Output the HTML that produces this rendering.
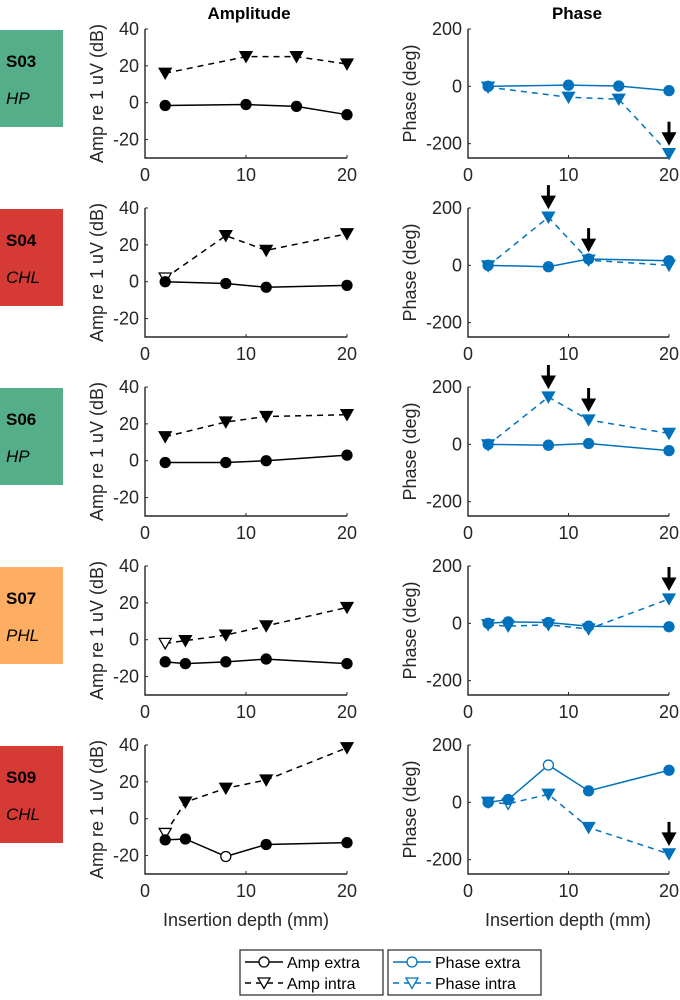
<!DOCTYPE html>
<html><head><meta charset="utf-8"><style>
body{margin:0;background:#fff;}
svg{display:block;font-family:"Liberation Sans",sans-serif;}
</style></head><body>
<svg id="fig" width="680" height="1000"></svg>
<script>
const panelTops=[29,208,387,566,745];
const subjects=["S03","S04","S06","S07","S09"];
const groups=["HP","CHL","HP","PHL","CHL"];
const groupColors={"HP":"#55ae8a","CHL":"#d63a34","PHL":"#fdae62"};
const depths=[[2,10,15,20],[2,8,12,20],[2,8,12,20],[2,4,8,12,20],[2,4,8,12,20]];
const ampExtra=[[-1.5,-1,-2,-6.5],[0,-1,-3,-2],[-1,-1,0,3],[-12,-13,-12,-10.5,-13],[-11.5,-11,-20.5,-14,-13]];
const ampIntra=[[16,25,25,21],[2,25,17,26],[13,21,24,25],[-2,-0.5,2.5,7.5,17.5],[-8,9,16.5,21,38.5]];
const phExtra=[[0,4,1,-15],[0,-5,22,16],[0,-3,3,-22],[0,5,3,-10,-12],[0,10,130,40,112]];
const phIntra=[[-3,-38,-45,-235],[-2,168,18,0],[-2,165,85,38],[-5,-10,-5,-20,85],[0,-5,28,-88,-180]];
const ampExtraOpen=[[],[],[],[],[2]];
const ampIntraOpen=[[],[0],[],[0],[0]];
const phExtraOpen=[[],[],[],[],[2]];
const phIntraOpen=[[],[],[],[],[1]];
const arrowIdx=[[3],[1,2],[1,2],[4],[4]];
const xTicks=[0,10,20];
const ampTicks=[40,20,0,-20];
const phTicks=[200,0,-200];

const NS="http://www.w3.org/2000/svg";
const svg=document.getElementById('fig');
function el(t,a,p){const e=document.createElementNS(NS,t);for(const k in a)e.setAttribute(k,a[k]);(p||svg).appendChild(e);return e;}
const H=129;
const ampX=v=>145+v/20*202;
const phX=v=>468+v/20*201;
function ampY(top){return v=>top+(40-v)/70*H;}
function phY(top){return v=>top+(200-v)/450*H;}

function txt(x,y,s,o,p){const t=el('text',Object.assign({x:x,y:y,'font-size':18,fill:'#262626','text-anchor':'middle'},o||{}),p);t.textContent=s;return t;}

const t1=txt(249,19,"Amplitude",{'font-weight':'bold','font-size':17,fill:'#000'});

const t2=txt(577,19,"Phase",{'font-weight':'bold','font-size':17,fill:'#000'});


function marker(g,x,y,type,color,open){
  let m;
  if(type==='o'){m=el('circle',{cx:x,cy:y,r:5,fill:open?'#fff':color,stroke:color,'stroke-width':1.3},g);}
  else{m=el('path',{d:`M${x-6},${y-5}L${x+6},${y-5}L${x},${y+5.5}Z`,fill:open?'#fff':color,stroke:color,'stroke-width':1.3},g);}
  
  
}
function series(g,xs,ys,X,Y,color,dash,type,openArr,name){
  const pts=xs.map((d,i)=>X(d)+','+Y(ys[i])).join(' ');
  const l=el('polyline',{points:pts,fill:'none',stroke:color,'stroke-width':1.5,'stroke-dasharray':dash?'6,5':'none'},g);
  
  
  xs.forEach((d,i)=>marker(g,X(d),Y(ys[i]),type,color,openArr.includes(i)));
}
function axes(g,X,top,ticks,Y,x0,x1){
  el('path',{d:`M${x0},${top}L${x0},${top+H}L${x1},${top+H}`,fill:'none',stroke:'#262626','stroke-width':1.4},g);
  ticks.forEach(v=>{el('line',{x1:x0,x2:x0+3,y1:Y(v),y2:Y(v),stroke:'#262626'},g);txt(x0-6,Y(v)+6,String(v),{'text-anchor':'end'},g);});
  xTicks.forEach(v=>{el('line',{x1:X(v),x2:X(v),y1:top+H,y2:top+H-3,stroke:'#262626'},g);txt(X(v),top+H+23,String(v),{},g);});
}
function arrow(g,x,y){
  const a=el('path',{d:`M${x},${y-32}L${x},${y-18}M${x-5},${y-20}L${x+5},${y-20}L${x},${y-11}Z`,stroke:'#000','stroke-width':3,fill:'#000'},g);
  
  
}

subjects.forEach((s,k)=>{
  const top=panelTops[k];
  const lab=el('g',{});
  
  
  el('rect',{x:0,y:top+1,width:63,height:97,fill:groupColors[groups[k]]},lab);
  txt(6,top+38,s,{'text-anchor':'start','font-weight':'bold','font-size':17,fill:'#000'},lab);
  txt(6,top+75,groups[k],{'text-anchor':'start','font-style':'italic','font-size':17,fill:'#000'},lab);

  const ga=el('g',{});
  
  
  const AY=ampY(top);
  axes(ga,ampX,top,ampTicks,AY,145,347);
  txt(0,0,"Amp re 1 uV (dB)",{'font-size':18,transform:`translate(103,${top+H/2}) rotate(-90)`},ga);
  series(ga,depths[k],ampIntra[k],ampX,AY,'#000',true,'v',ampIntraOpen[k],'amp-intra-line');
  series(ga,depths[k],ampExtra[k],ampX,AY,'#000',false,'o',ampExtraOpen[k],'amp-extra-line');

  const gp=el('g',{});
  
  
  const PY=phY(top);
  axes(gp,phX,top,phTicks,PY,468,669);
  txt(0,0,"Phase (deg)",{'font-size':18,transform:`translate(416,${top+H/2}) rotate(-90)`},gp);
  series(gp,depths[k],phIntra[k],phX,PY,'#0072BD',true,'v',phIntraOpen[k],'phase-intra-line');
  series(gp,depths[k],phExtra[k],phX,PY,'#0072BD',false,'o',phExtraOpen[k],'phase-extra-line');
  arrowIdx[k].forEach(i=>arrow(gp,phX(depths[k][i]),PY(phIntra[k][i])));
});
const xl1=txt(246,926,"Insertion depth (mm)",{'font-size':18});

const xl2=txt(568,926,"Insertion depth (mm)",{'font-size':18});


function legend(x,w,color,names,name){
  const g=el('g',{});
  
  
  el('rect',{x:x,y:950,width:w,height:45,fill:'#fff',stroke:'#262626','stroke-width':1.2},g);
  el('line',{x1:x+5,x2:x+43,y1:962,y2:962,stroke:color,'stroke-width':1.5},g);
  marker(g,x+24,962,'o',color,true);
  el('line',{x1:x+5,x2:x+43,y1:983,y2:983,stroke:color,'stroke-width':1.5,'stroke-dasharray':'6,5'},g);
  marker(g,x+24,983,'v',color,true);
  txt(x+47,968,names[0],{'text-anchor':'start','font-size':16,fill:'#000'},g);
  txt(x+47,989,names[1],{'text-anchor':'start','font-size':16,fill:'#000'},g);
}
legend(240,143,'#000',["Amp extra","Amp intra"],'legend-amplitude');
legend(388,153,'#0072BD',["Phase extra","Phase intra"],'legend-phase');
</script>
</body></html>
